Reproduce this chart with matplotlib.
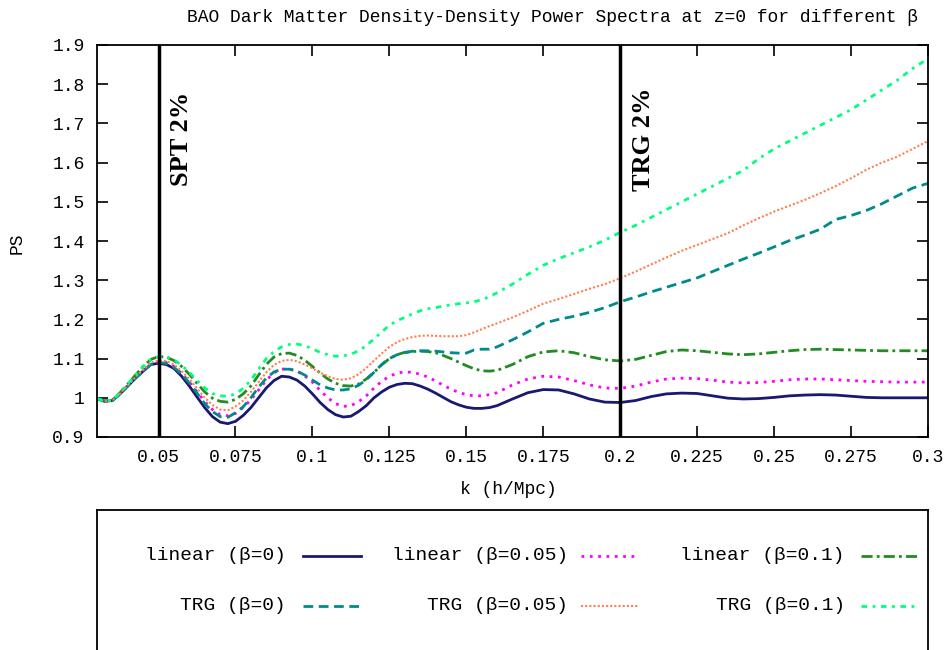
import numpy as np
import matplotlib
matplotlib.use("Agg")
from matplotlib import pyplot as plt

# k values the curves were read at (h/Mpc): finer where the wiggles are
k = np.concatenate([np.linspace(0.03, 0.16, 53), np.linspace(0.165, 0.30, 28)])

linear_b0 = [0.998, 0.991, 0.993, 1.010, 1.030, 1.050, 1.068, 1.085, 1.088, 1.085,
             1.075, 1.055, 1.030, 1.002, 0.975, 0.952, 0.938, 0.934, 0.940, 0.955,
             0.975, 1.000, 1.025, 1.044, 1.055, 1.053, 1.045, 1.030, 1.010, 0.988,
             0.970, 0.957, 0.951, 0.953, 0.965, 0.980, 1.000, 1.015, 1.027, 1.034,
             1.037, 1.036, 1.030, 1.022, 1.012, 1.001, 0.990, 0.982, 0.976, 0.973,
             0.973, 0.975, 0.980,
             0.997, 1.013, 1.021, 1.020, 1.010, 0.997, 0.989, 0.988, 0.993, 1.003,
             1.010, 1.012, 1.011, 1.005, 0.999, 0.997, 0.998, 1.001, 1.005, 1.007,
             1.008, 1.007, 1.004, 1.001, 1.000, 1.000, 1.000, 1.000]
linear_b005 = [0.998, 0.991, 0.993, 1.011, 1.032, 1.052, 1.070, 1.088, 1.092, 1.090,
               1.080, 1.062, 1.040, 1.015, 0.990, 0.970, 0.957, 0.954, 0.960, 0.975,
               0.995, 1.020, 1.045, 1.064, 1.073, 1.074, 1.068, 1.056, 1.040, 1.019,
               1.000, 0.985, 0.978, 0.980, 0.990, 1.005, 1.025, 1.042, 1.055, 1.063,
               1.066, 1.065, 1.060, 1.053, 1.043, 1.032, 1.022, 1.014, 1.008, 1.005,
               1.005, 1.008, 1.013,
               1.033, 1.048, 1.055, 1.053, 1.044, 1.033, 1.025, 1.024, 1.030, 1.040,
               1.048, 1.050, 1.049, 1.045, 1.040, 1.038, 1.039, 1.042, 1.046, 1.048,
               1.048, 1.046, 1.044, 1.042, 1.041, 1.040, 1.040, 1.040]
linear_b01 = [0.998, 0.992, 0.994, 1.013, 1.035, 1.058, 1.080, 1.098, 1.105, 1.104,
              1.095, 1.080, 1.060, 1.037, 1.015, 0.999, 0.991, 0.989, 0.996, 1.010,
              1.030, 1.058, 1.085, 1.104, 1.113, 1.114, 1.108, 1.096, 1.080, 1.063,
              1.048, 1.037, 1.031, 1.030, 1.035, 1.048, 1.065, 1.084, 1.100, 1.110,
              1.116, 1.118, 1.119, 1.118, 1.115, 1.108, 1.100, 1.091, 1.082, 1.074,
              1.069, 1.068, 1.070,
              1.085, 1.105, 1.117, 1.120, 1.115, 1.105, 1.097, 1.094, 1.098, 1.108,
              1.118, 1.122, 1.120, 1.116, 1.112, 1.110, 1.112, 1.116, 1.120, 1.123,
              1.124, 1.123, 1.122, 1.121, 1.120, 1.120, 1.120, 1.120]
trg_b0 = [0.998, 0.991, 0.993, 1.010, 1.030, 1.050, 1.068, 1.085, 1.090, 1.088,
          1.078, 1.060, 1.038, 1.012, 0.985, 0.965, 0.952, 0.950, 0.962, 0.977,
          1.000, 1.027, 1.050, 1.066, 1.073, 1.073, 1.068, 1.058, 1.045, 1.033,
          1.025, 1.020, 1.020, 1.023, 1.032, 1.046, 1.065, 1.085, 1.100, 1.110,
          1.115, 1.119, 1.120, 1.120, 1.119, 1.117, 1.115, 1.114, 1.114, 1.122,
          1.124, 1.124, 1.130,
          1.148, 1.168, 1.190, 1.200, 1.208, 1.218, 1.230, 1.245, 1.257, 1.270,
          1.282, 1.294, 1.306, 1.322, 1.338, 1.354, 1.369, 1.385, 1.401, 1.415,
          1.430, 1.455, 1.465, 1.478, 1.495, 1.515, 1.535, 1.547]
trg_b005 = [0.998, 0.991, 0.993, 1.011, 1.032, 1.053, 1.072, 1.090, 1.095, 1.094,
            1.085, 1.068, 1.048, 1.024, 1.000, 0.982, 0.970, 0.968, 0.978, 0.993,
            1.015, 1.040, 1.065, 1.084, 1.094, 1.097, 1.093, 1.085, 1.075, 1.064,
            1.055, 1.048, 1.046, 1.050, 1.060, 1.076, 1.095, 1.113, 1.130, 1.142,
            1.150, 1.155, 1.158, 1.159, 1.158, 1.157, 1.157, 1.157, 1.160, 1.167,
            1.175, 1.183, 1.190,
            1.205, 1.222, 1.240, 1.252, 1.265, 1.278, 1.290, 1.305, 1.322, 1.340,
            1.358, 1.375, 1.390, 1.405, 1.420, 1.440, 1.458, 1.475, 1.490, 1.505,
            1.522, 1.540, 1.560, 1.582, 1.600, 1.615, 1.635, 1.655]
trg_b01 = [0.998, 0.992, 0.994, 1.013, 1.035, 1.058, 1.080, 1.098, 1.105, 1.105,
           1.097, 1.083, 1.065, 1.044, 1.025, 1.011, 1.005, 1.004, 1.010, 1.024,
           1.045, 1.073, 1.100, 1.118, 1.130, 1.136, 1.137, 1.133, 1.125, 1.116,
           1.110, 1.106, 1.107, 1.111, 1.120, 1.133, 1.150, 1.168, 1.185, 1.197,
           1.205, 1.214, 1.222, 1.227, 1.230, 1.234, 1.237, 1.240, 1.242, 1.245,
           1.250, 1.258, 1.268,
           1.290, 1.315, 1.338, 1.355, 1.370, 1.385, 1.402, 1.422, 1.440, 1.460,
           1.480, 1.500, 1.520, 1.540, 1.560, 1.580, 1.610, 1.635, 1.655, 1.675,
           1.695, 1.715, 1.735, 1.760, 1.785, 1.810, 1.840, 1.865]

labels = ["linear (β=0)", "linear (β=0.05)", "linear (β=0.1)",
          "TRG (β=0)", "TRG (β=0.05)", "TRG (β=0.1)"]
xticks = [0.05, 0.075, 0.1, 0.125, 0.15, 0.175, 0.2, 0.225, 0.25, 0.275, 0.3]
xticklabels = ["0.05", "0.075", "0.1", "0.125", "0.15", "0.175", "0.2",
               "0.225", "0.25", "0.275", "0.3"]
yticks = [0.9, 1.0, 1.1, 1.2, 1.3, 1.4, 1.5, 1.6, 1.7, 1.8, 1.9]
yticklabels = ["0.9", "1", "1.1", "1.2", "1.3", "1.4", "1.5", "1.6", "1.7", "1.8", "1.9"]
limit_k = [0.05, 0.2]
limit_text = ["SPT 2%", "TRG 2%"]

plt.rcParams["font.family"] = ["Liberation Mono", "DejaVu Sans Mono"]
plt.rcParams["font.size"] = 13

styles = [
    dict(color="#191970", lw=2.0, ls="-"),
    dict(color="#ff00ff", lw=2.0, ls=(0, (1, 2))),
    dict(color="#228b22", lw=2.0, ls=(0, (4, 1.5, 1, 1.5))),
    dict(color="#008b8b", lw=2.0, ls=(0, (3.5, 2))),
    dict(color="#ff7f50", lw=1.5, ls=(0, (1, 1))),
    dict(color="#00ff7f", lw=2.0, ls=(0, (2, 2, 1, 2))),
]
series = [linear_b0, linear_b005, linear_b01, trg_b0, trg_b005, trg_b01]

fig = plt.figure(figsize=(9.53, 6.5), dpi=100)
ax = fig.add_axes([97 / 953, 213 / 650, 831 / 953, 392 / 650])

for y, st in zip(series, styles):
    ax.plot(k, y, **st)

for kv, txt in zip(limit_k, limit_text):
    ax.axvline(kv, color="black", lw=2.5)
    ax.text(kv + 0.0075, 1.66, txt, rotation=90, ha="center", va="center",
            family="Liberation Serif", weight="bold", fontsize=19)

ax.set_xlim(0.03, 0.3)
ax.set_ylim(0.9, 1.9)
ax.set_xticks(xticks)
ax.set_xticklabels(xticklabels)
ax.set_yticks(yticks)
ax.set_yticklabels(yticklabels)
ax.tick_params(direction="in", length=8, width=1.2, top=True, right=True, pad=9)
for s in ax.spines.values():
    s.set_linewidth(1.3)

fig.text(553 / 953, 1 - 17 / 650, "BAO Dark Matter Density-Density Power Spectra at z=0 for different β",
         ha="center", va="center")
fig.text(508 / 953, 1 - 490 / 650, "k (h/Mpc)", ha="center", va="center")
fig.text(17 / 953, 1 - 243 / 650, "PS", rotation=90, ha="center", va="center")

# key box below the plot, in pixel units
lax = fig.add_axes([97 / 953, -40 / 650, 831 / 953, 180 / 650])
lax.set_xlim(97, 928)
lax.set_ylim(690, 510)
lax.set_xticks([])
lax.set_yticks([])
for s in lax.spines.values():
    s.set_linewidth(1.3)
text_right = [286, 568, 845]
line_start = [303, 581, 861]
rows = [556, 606]
for i, (lab, st) in enumerate(zip(labels, styles)):
    r, c = divmod(i, 3)
    lax.text(text_right[c], rows[r], lab, ha="right", va="center", fontsize=14)
    lax.plot([line_start[c], line_start[c] + 58], [rows[r], rows[r]], **st)

fig.savefig("out.png", dpi=100)
